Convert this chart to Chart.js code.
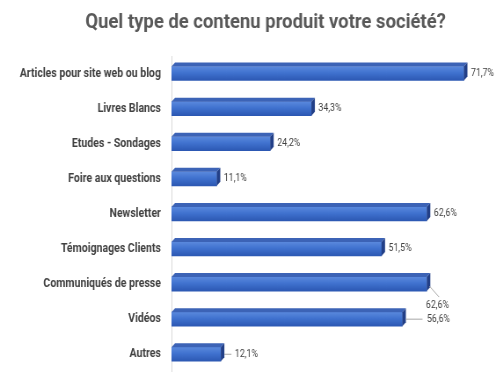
<!DOCTYPE html>
<html>
<head>
<meta charset="utf-8">
<script src="https://cdn.jsdelivr.net/npm/chart.js@4/dist/chart.umd.min.js"></script>
<style>
    html, body { margin: 0; padding: 0; background: #ffffff; overflow: hidden; width: 503px; height: 373px; }
    /* the reference picture is squeezed horizontally, so the chart is drawn wider and squeezed too */
    #chart_content { display: block; transform: scaleX(0.8794); transform-origin: 0 0; }
</style>
</head>
<body>
<canvas id="chart_content" width="572" height="391"></canvas>
<script>
'use strict';

/******************************************************************************************
DATA
******************************************************************************************/

var title_text = 'Quel type de contenu produit votre société?';
var categories = [
    'Articles pour site web ou blog',
    'Livres Blancs',
    'Etudes - Sondages',
    'Foire aux questions',
    'Newsletter',
    'Témoignages Clients',
    'Communiqués de presse',
    'Vidéos',
    'Autres'
];
var values = [71.7, 34.3, 24.2, 11.1, 62.6, 51.5, 62.6, 56.6, 12.1];
var value_labels = ['71,7%', '34,3%', '24,2%', '11,1%', '62,6%', '51,5%', '62,6%', '56,6%', '12,1%'];


/******************************************************************************************
TITLE (not centred on the canvas in the original, so drawn by hand)
******************************************************************************************/

var title_plugin = {
    id: 'offset_title',
    afterDraw: function(chart) {
        var ctx = chart.ctx;
        ctx.save();
        ctx.fillStyle = '#595959';
        ctx.font = 'bold 21px Roboto';
        ctx.textAlign = 'center';
        ctx.textBaseline = 'alphabetic';
        ctx.fillText(title_text, 302, 28);
        ctx.restore();
    }
};


/******************************************************************************************
3D BARS + VALUE LABELS
******************************************************************************************/

var DEPTH = 4;                                                              // depth of the fake 3d effect

// labels that are pushed away from the bar end, with a leader line
var label_moves = {
    6: { dx: -1, dy: 21, line: [3, 2, 14, 13] },
    7: { dx: 28, dy: 0, line: [4, 0, 23, 0] },
    8: { dx: 16, dy: 0, line: [4, 0, 12, 0] }
};

var bar_3d_plugin = {
    id: 'bar_3d',
    afterDatasetsDraw: function(chart) {
        var ctx = chart.ctx;
        var meta = chart.getDatasetMeta(0);
        ctx.save();
        meta.data.forEach(function(bar, i) {
            var h = bar.height;
            var top = bar.y - h / 2;
            var bottom = bar.y + h / 2;
            var x0 = bar.base;
            var x1 = bar.x;

            // top face
            ctx.fillStyle = '#3c63b6';
            ctx.beginPath();
            ctx.moveTo(x0, top);
            ctx.lineTo(x0 + DEPTH, top - DEPTH);
            ctx.lineTo(x1 + DEPTH, top - DEPTH);
            ctx.lineTo(x1, top);
            ctx.closePath();
            ctx.fill();

            // right face
            ctx.fillStyle = '#223f87';
            ctx.beginPath();
            ctx.moveTo(x1, top);
            ctx.lineTo(x1 + DEPTH, top - DEPTH);
            ctx.lineTo(x1 + DEPTH, bottom - DEPTH);
            ctx.lineTo(x1, bottom);
            ctx.closePath();
            ctx.fill();

            // value label
            var move = label_moves[i];
            var lx = x1 + DEPTH + 4;
            var ly = bar.y;
            if (move) {
                ctx.strokeStyle = '#a6a6a6';
                ctx.lineWidth = 1;
                ctx.beginPath();
                ctx.moveTo(x1 + move.line[0], bar.y + move.line[1]);
                ctx.lineTo(x1 + move.line[2], bar.y + move.line[3]);
                ctx.stroke();
                lx = x1 + move.dx;
                ly = bar.y + move.dy;
            }
            ctx.fillStyle = '#404040';
            ctx.font = '10px Roboto';
            ctx.textAlign = 'left';
            ctx.textBaseline = 'middle';
            ctx.fillText(value_labels[i], lx, ly);
        });
        ctx.restore();
    }
};


/******************************************************************************************
CHART
******************************************************************************************/

function front_gradient(context) {
    var chart = context.chart;
    var y_scale = chart.scales.y;
    if (!y_scale || !chart.chartArea) {
        return '#3b6ac8';
    }
    var y = y_scale.getPixelForValue(context.dataIndex);
    var g = chart.ctx.createLinearGradient(0, y - 7, 0, y + 7);
    g.addColorStop(0, '#5a89dd');
    g.addColorStop(0.45, '#4072cf');
    g.addColorStop(1, '#2c58b3');
    return g;
}

var ctx = document.getElementById('chart_content').getContext('2d');
var content_chart = new Chart(ctx, {
    type: 'bar',
    data: {
        labels: categories,
        datasets: [{
            data: values,
            backgroundColor: front_gradient,
            borderWidth: 0,
            barThickness: 14
        }]
    },
    options: {
        indexAxis: 'y',
        responsive: false,
        animation: false,
        layout: {
            padding: { left: 0, right: 6, top: 56, bottom: 1 }
        },
        plugins: {
            legend: { display: false },
            tooltip: { enabled: false },
            title: { display: false }
        },
        scales: {
            x: {
                display: false,
                min: 0,
                max: 80
            },
            y: {
                grid: { display: false, drawTicks: false },
                border: { display: true, color: '#d9d9d9', width: 1 },
                ticks: {
                    color: '#404040',
                    padding: 12,
                    font: { family: 'Roboto', size: 12, weight: 'bold' }
                },
                afterFit: function(scale) {
                    scale.width = 195;
                }
            }
        }
    },
    plugins: [bar_3d_plugin, title_plugin]
});
</script>
</body>
</html>
